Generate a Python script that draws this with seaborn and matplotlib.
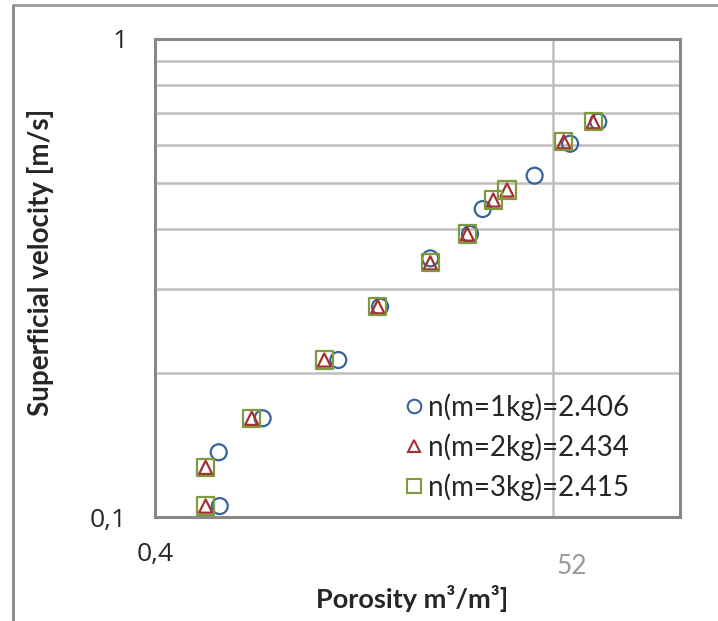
import numpy as np
import pandas as pd
import matplotlib
matplotlib.use("Agg")
import matplotlib.pyplot as plt
import seaborn as sns
from matplotlib.ticker import FixedLocator, NullLocator, NullFormatter
from matplotlib.lines import Line2D

# data (porosity, superficial velocity)
por_1kg = [0.4556, 0.4547, 0.4967, 0.5783, 0.6291, 0.6959, 0.7538, 0.7733, 0.8584, 0.9219, 0.9757]
vel_1kg = [0.1056, 0.1368, 0.1611, 0.2132, 0.2755, 0.3476, 0.3908, 0.4407, 0.5174, 0.6034, 0.6707]
por_2kg = [0.4429, 0.4429, 0.4859, 0.5623, 0.6262, 0.6959, 0.7497, 0.7899, 0.8120, 0.9103, 0.9659]
vel_2kg = [0.1056, 0.1272, 0.1611, 0.2132, 0.2755, 0.3403, 0.3908, 0.4603, 0.4830, 0.6092, 0.6707]
por_3kg = [0.4429, 0.4429, 0.4859, 0.5623, 0.6262, 0.6959, 0.7497, 0.7899, 0.8120, 0.9103, 0.9659]
vel_3kg = [0.1056, 0.1272, 0.1611, 0.2132, 0.2755, 0.3403, 0.3908, 0.4603, 0.4830, 0.6092, 0.6707]
labels = ["n(m=1kg)=2.406", "n(m=2kg)=2.434", "n(m=3kg)=2.415"]

sns.set_style("white")
plt.rcParams['font.family'] = ['Open Sans', 'DejaVu Sans']
plt.rcParams['xtick.labelsize'] = 19
plt.rcParams['ytick.labelsize'] = 19
plt.rcParams['xtick.major.pad'] = 18
plt.rcParams['ytick.major.pad'] = 20
plt.rcParams['xtick.major.size'] = 0
plt.rcParams['ytick.major.size'] = 0
plt.rcParams['ytick.minor.size'] = 0

fig = plt.figure(figsize=(7.18, 6.21), dpi=100)
ax = fig.add_axes([155/718, 1-517.4/621, 525/718, 478.7/621])

series = [
    (por_1kg, vel_1kg, "o", "#35649F", 11.5),
    (por_2kg, vel_2kg, "^", "#A4302F", 9.5),
    (por_3kg, vel_3kg, "s", "#7E9A3C", 12.5),
]
handles = []
for (x, y, m, c, ms), lab in zip(series, labels):
    df = pd.DataFrame({"x": x, "y": y})
    sns.scatterplot(data=df, x="x", y="y", marker=m, s=ms**2, facecolors="none",
                    edgecolor=c, linewidth=1.6, ax=ax, zorder=3)
    handles.append(Line2D([], [], ls="", marker=m, ms=ms*0.85, mfc="none", mec=c, mew=1.5))

ax.set_xscale("log")
ax.set_yscale("log")
ax.set_xlim(0.4, 1.15)
ax.set_ylim(0.1, 1)

ax.xaxis.set_major_locator(FixedLocator([0.4, 0.89]))
ax.xaxis.set_minor_locator(NullLocator())
ax.set_xticklabels(["0,4", ""])
ax.yaxis.set_major_locator(FixedLocator([0.1, 1]))
ax.yaxis.set_minor_locator(FixedLocator([0.2, 0.3, 0.4, 0.5, 0.6, 0.7, 0.8, 0.9]))
ax.yaxis.set_minor_formatter(NullFormatter())
ax.set_yticklabels(["0,1", "1"])

ax.grid(axis="y", which="both", color="#BFBFBF", linewidth=1.8)
ax.grid(axis="x", which="major", color="#BFBFBF", linewidth=1.8)
for s in ax.spines.values():
    s.set_color("#888888")
    s.set_linewidth(2.2)

ax.set_xlabel("Porosity m³/m³]", fontsize=19.5, fontweight="bold", family="Lato")
ax.set_ylabel("Superficial velocity [m/s]", fontsize=20, fontweight="bold", family="Lato")
ax.xaxis.set_label_coords((412-155)/525, (517.4-598)/478.7)
ax.yaxis.set_label_coords((40-155)/525, (517.4-262)/478.7)
ax.xaxis.label.set_va("center")
ax.yaxis.label.set_va("center")

ax.legend(handles, labels, loc="upper left", bbox_to_anchor=((404-155)/525, (517.4-393)/478.7),
          frameon=False, prop={"family": "Lato", "size": 20}, handlelength=0.7,
          handletextpad=0.15, labelspacing=0.45, borderpad=0, borderaxespad=0)

fig.text(572/718, 1-566/621, "52", color="#999999", fontsize=19, family="Lato",
         ha="center", va="center")

# outer frame lines of the original screenshot
fig.add_artist(Line2D([13/718, 13/718], [0, 1-4.5/621], color="#888888", lw=2, transform=fig.transFigure))
fig.add_artist(Line2D([13/718, 1], [1-4.5/621, 1-4.5/621], color="#999999", lw=2, transform=fig.transFigure))

plt.savefig("out.png", dpi=100)
